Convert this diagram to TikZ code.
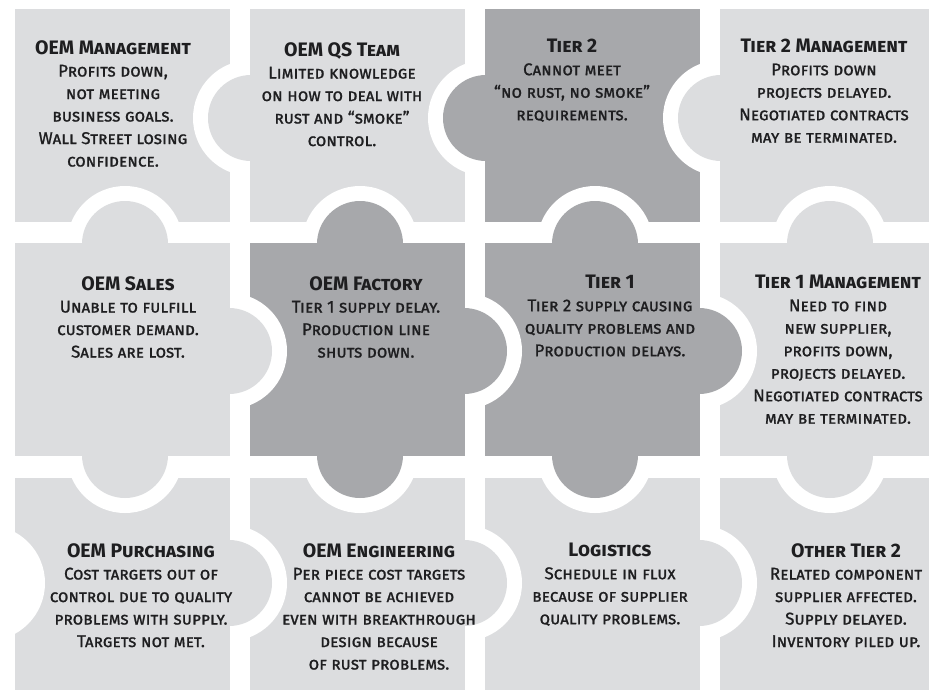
\documentclass[tikz,border=0pt]{standalone}
\usepackage{fontspec}
\setmainfont{Fira Sans}
\newfontfamily\bodyface{Fira Sans}[FakeBold=1.1]
\definecolor{lightp}{RGB}{220,221,223}
\definecolor{darkp}{RGB}{167,168,171}
\definecolor{textc}{RGB}{30,30,32}
\newcommand\bodyfnt{\bodyface\fontsize{17}{22.5}\selectfont\scshape}
\newcommand\ttl[1]{{\normalfont\fontsize{19.5}{22.5}\selectfont\bfseries\scshape #1}}
\tikzset{
  txt/.style={anchor=north, align=center, inner sep=0pt, text=textc, font=\bodyfnt},
}
% piece: #1 color, #2 left, #3 top, #4 notch circles (path)
\newcommand\piece[4]{%
  \begin{scope}
    \clip (#2,#3) rectangle ++(215,213);
    \fill[#1] (#2,#3) rectangle ++(215,213);
    \fill[white] #4;
  \end{scope}}
\begin{document}
\begin{tikzpicture}[x=1pt,y=-1pt]
\useasboundingbox (0,0) rectangle (929,689);
\fill[white] (0,0) rectangle (929,689);
% row 1
\piece{lightp}{15}{9}{(251,118) circle (58) (125,244) circle (58)}
\piece{lightp}{250}{9}{(486,118) circle (58) (360,244) circle (58)}
\piece{darkp}{485}{9}{(721,118) circle (58) (595,244) circle (58)}
\piece{lightp}{720}{9}{(830,244) circle (58)}
% row 2
\piece{lightp}{15}{243}{(0,0) circle (1)}
\piece{darkp}{250}{243}{(229,351) circle (58)}
\piece{darkp}{485}{243}{(464,351) circle (58)}
\piece{lightp}{720}{243}{(699,351) circle (58)}
% row 3
\piece{lightp}{15}{478}{(125,455) circle (58) (-13,583) circle (58)}
\piece{lightp}{250}{478}{(360,455) circle (58) (229,583) circle (58)}
\piece{lightp}{485}{478}{(595,455) circle (58) (464,583) circle (58)}
\piece{lightp}{720}{478}{(830,455) circle (58) (699,583) circle (58)}
% tabs
\fill[lightp] (251,118) circle (43);
\fill[darkp]  (486,118) circle (43);
\fill[lightp] (721,118) circle (43);
\fill[lightp] (125,244) circle (43);
\fill[darkp]  (360,244) circle (43);
\fill[darkp]  (595,244) circle (43);
\fill[lightp] (830,244) circle (43);
\fill[lightp] (229,351) circle (43);
\fill[darkp]  (464,351) circle (43);
\fill[darkp]  (699,351) circle (43);
\fill[lightp] (125,455) circle (43);
\fill[darkp]  (360,455) circle (43);
\fill[darkp]  (595,455) circle (43);
\fill[lightp] (830,455) circle (43);
\fill[lightp] (229,583) circle (43);
\fill[lightp] (464,583) circle (43);
\fill[lightp] (699,583) circle (43);
% texts
\node[txt] (t11) at (113,40) {\ttl{OEM Management}\\Profits down,\\not meeting\\business goals.\\Wall Street losing\\confidence.};
\node[txt] (t12) at (342,42) {\ttl{OEM QS Team}\\Limited knowledge\\on how to deal with\\rust and “smoke”\\control.};
\node[txt] (t13) at (572,39) {\ttl{Tier 2}\\Cannot meet\\“no rust, no smoke”\\requirements.};
\node[txt] (t14) at (824,39) {\ttl{Tier 2 Management}\\Profits down\\projects delayed.\\Negotiated contracts\\may be terminated.};
\node[txt] (t21) at (128,276) {\ttl{OEM Sales}\\Unable to fulfill\\customer demand.\\Sales are lost.};
\node[txt] (t22) at (366,276) {\ttl{OEM Factory}\\Tier 1 supply delay.\\Production line\\shuts down.};
\node[txt] (t23) at (610,275) {\ttl{Tier 1}\\Tier 2 supply causing\\quality problems and\\Production delays.};
\node[txt] (t24) at (838,275) {\ttl{Tier 1 Management}\\Need to find\\new supplier,\\profits down,\\projects delayed.\\Negotiated contracts\\may be terminated.};
\node[txt] (t31) at (141,543) {\ttl{OEM Purchasing}\\Cost targets out of\\control due to quality\\problems with supply.\\Targets not met.};
\node[txt] (t32) at (379,543) {\ttl{OEM Engineering}\\Per piece cost targets\\cannot be achieved\\even with breakthrough\\design because\\of rust problems.};
\node[txt] (t33) at (610,543) {\ttl{Logistics}\\Schedule in flux\\because of supplier\\quality problems.};
\node[txt] (t34) at (846,543) {\ttl{Other Tier 2}\\Related component\\supplier affected.\\Supply delayed.\\Inventory piled up.};
\end{tikzpicture}
\end{document}
